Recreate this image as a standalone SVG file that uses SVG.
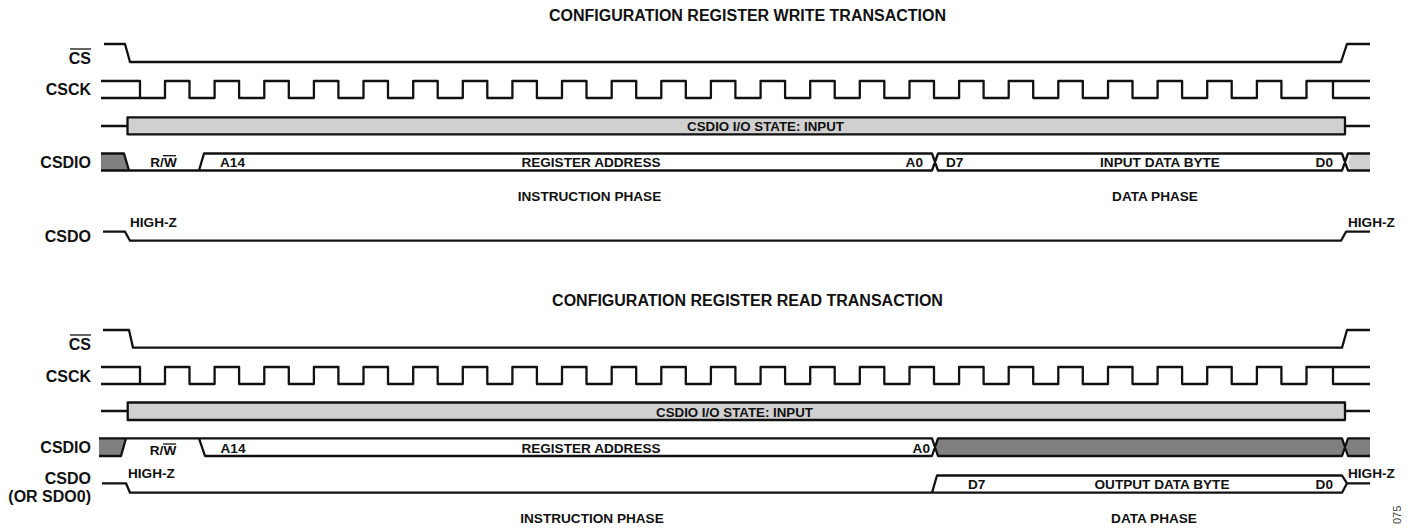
<svg xmlns="http://www.w3.org/2000/svg" xmlns:xlink="http://www.w3.org/1999/xlink" width="1416" height="529" viewBox="0 0 1416 529">
<style>
text{font-family:"Liberation Sans",Arial,sans-serif;font-weight:bold;font-size:13.6px;fill:#111}
.m{text-anchor:middle}.e{text-anchor:end}.l{font-size:16px}.s{font-size:13.3px}
.w{fill:none;stroke:#111;stroke-width:2.3;stroke-linejoin:round;stroke-linecap:butt}
.f{fill:#fff}.g{fill:#d0d0d0}.d{fill:#808080}
.o{stroke:#111;stroke-width:1.3}
</style>
<defs>
<path id="clk" d="M101 81H140V98H101M140 98H165V81H189.5V98H214.6V81H239.1V98H264.3V81H288.8V98H313.9V81H338.4V98H363.5V81H388V98H413.2V81H437.7V98H462.8V81H487.3V98H512.4V81H536.9V98H562V81H586.5V98H611.7V81H636.2V98H661.3V81H685.8V98H710.9V81H735.4V98H760.6V81H785.1V98H810.2V81H834.7V98H859.8V81H884.3V98H909.5V81H934V98H959.1V81H983.6V98H1008.7V81H1033.2V98H1058.3V81H1082.8V98H1108V81H1132.5V98H1157.6V81H1182.1V98H1207.2V81H1231.7V98H1256.9V81H1281.4V98H1306.5V81H1333V98H1370M1333 81H1370"/>
</defs>
<g id="write-transaction">
<text id="title-write" class="l m" x="747.500" y="20.500">CONFIGURATION REGISTER WRITE TRANSACTION</text>
<g id="write-labels">
<text class="l e" x="91" y="64">CS</text><line class="o" x1="70" y1="49" x2="91" y2="49"/>
<text class="l e" x="91" y="95">CSCK</text>
<text class="l e" x="91" y="167.500">CSDIO</text>
<text class="l e" x="91" y="241.700">CSDO</text>
</g>
<g id="write-signals">
<path id="w-cs" class="w" d="M104 44H125L130 62H1341L1347 44H1370"/>
<use id="w-csck" href="#clk" xlink:href="#clk" class="w"/>
<path id="w-state-lead" class="w" d="M101 126H127M1345 126H1370"/>
<rect id="w-state" class="w g" x="127.500" y="117.300" width="1217.500" height="17"/>
<path id="w-csdio-in" class="d" d="M101 153.500H124L129 170.500H101Z"/>
<path id="w-csdio-grey" class="g" d="M1370 153.500H1351L1348 162L1351 170.500H1370Z"/>
<path id="w-csdio" class="w" d="M101 153.500H124L129 170.500H199L204 153.500H932L938 170.500H1342L1348 153.500H1370M101 170.500H129M199 170.500H932L938 153.500H1342L1348 170.500H1370"/>
<path id="w-csdo" class="w" d="M103 231.700H125L130 240.700H1341L1346 231.700H1370"/>
</g>
<g id="write-text">
<text class="s m" x="765.500" y="131">CSDIO I/O STATE: INPUT</text>
<text class="m" x="163.500" y="167">R/W</text><line class="o" x1="163" y1="155.700" x2="176" y2="155.700"/>
<text x="220" y="166.500">A14</text>
<text class="m" x="591" y="166.500">REGISTER ADDRESS</text>
<text class="e" x="923" y="166.500">A0</text>
<text x="946" y="166.500">D7</text>
<text class="m" x="1160" y="166.500">INPUT DATA BYTE</text>
<text class="e" x="1333" y="166.500">D0</text>
<text class="m" x="589.500" y="201">INSTRUCTION PHASE</text>
<text class="m" x="1155" y="201">DATA PHASE</text>
<text x="130" y="226.500">HIGH-Z</text>
<text x="1348" y="226.500">HIGH-Z</text>
</g>
</g>
<g id="read-transaction">
<text id="title-read" class="l m" x="747.500" y="305.500">CONFIGURATION REGISTER READ TRANSACTION</text>
<g id="read-labels">
<text class="l e" x="91" y="350">CS</text><line class="o" x1="70" y1="335" x2="91" y2="335"/>
<text class="l e" x="91" y="382">CSCK</text>
<text class="l e" x="91" y="453">CSDIO</text>
<text class="l e" x="91" y="484">CSDO</text>
<text class="l e" x="91" y="501.500">(OR SDO0)</text>
</g>
<g id="read-signals">
<path id="r-cs" class="w" d="M103 330H129L133 347.700H1342L1347 330H1370"/>
<use id="r-csck" href="#clk" xlink:href="#clk" class="w" transform="translate(0 286)"/>
<path id="r-state-lead" class="w" d="M101 411H128M1345 411H1370"/>
<rect id="r-state" class="w g" x="127.700" y="402.500" width="1217.300" height="17.500"/>
<path id="r-csdio-in" class="d" d="M99 438.300H126L121 456H99Z"/>
<path id="r-csdio-data" class="d" d="M935 447L938 438.300H1342L1345 447L1342 456H938Z"/>
<path id="r-csdio-end" class="d" d="M1370 438.300H1349L1346 447L1349 456H1370Z"/>
<path id="r-csdio" class="w" d="M99 438.300H932L938 456H1342L1348 438.300H1370M99 456H121L126 438.300M199 438.300L205 456H932L938 438.300H1342L1348 456H1370"/>
<path id="r-csdo" class="w" d="M102 483.300H126L130 492.700H932L937 475.500H1342L1347 483.300L1342 492.700H932M1347 483.300H1370"/>
</g>
<g id="read-text">
<text class="s m" x="734.500" y="416.700">CSDIO I/O STATE: INPUT</text>
<text class="m" x="163" y="455">R/W</text><line class="o" x1="163" y1="444" x2="176" y2="444"/>
<text x="220.500" y="452.500">A14</text>
<text class="m" x="591" y="452.500">REGISTER ADDRESS</text>
<text class="e" x="930" y="452.500">A0</text>
<text x="968" y="488.500">D7</text>
<text class="m" x="1162" y="488.500">OUTPUT DATA BYTE</text>
<text class="e" x="1333" y="488.500">D0</text>
<text class="m" x="592" y="522.500">INSTRUCTION PHASE</text>
<text class="m" x="1154" y="522.500">DATA PHASE</text>
<text x="128" y="477.500">HIGH-Z</text>
<text x="1348" y="477.500">HIGH-Z</text>
<text style="font-weight:normal;font-size:11px;fill:#444" transform="translate(1401 524) rotate(-90)">075</text>
</g>
</g>
</svg>
